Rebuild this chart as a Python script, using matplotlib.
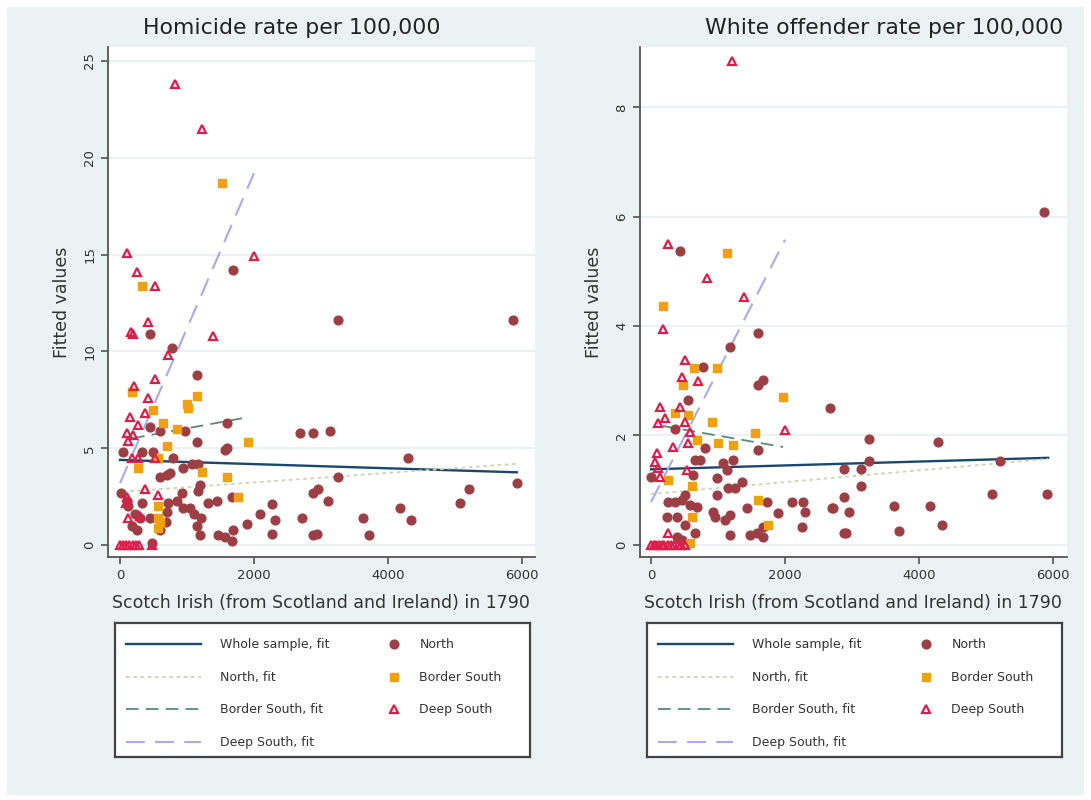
import matplotlib
matplotlib.use('Agg')
import matplotlib.pyplot as plt
import numpy as np
from matplotlib.patches import Rectangle

# --- Homicide rate panel ---
hom_north_x = [1687, 3254, 5866, 448, 776, 1150, 448, 597, 970, 1597, 1150, 2687, 2881, 3134,
               1597, 1567, 45, 328, 493, 791, 4299, 1075, 1165, 940, 702, 597, 746, 3254,
               10, 104, 925, 1165, 1194, 2881, 2955, 3104, 1313, 1448, 1672, 2269, 940, 1045,
               1104, 1209, 702, 2090, 2314, 2717, 3627, 4180, 4344, 5075, 5209, 5925,
               299, 448, 254, 597, 1150, 1896, 1687, 1194, 1463, 1567, 1672, 2269, 2881,
               2940, 3716, 478, 180, 120, 230, 330, 720, 850, 690]
hom_north_y = [14.2, 11.6, 11.6, 10.9, 10.2, 8.8, 6.1, 5.9, 5.9, 6.3, 5.3, 5.8, 5.8, 5.9,
               5.0, 4.9, 4.8, 4.8, 4.8, 4.5, 4.5, 4.2, 4.2, 4.0, 3.6, 3.5, 3.7, 3.5,
               2.7, 2.3, 2.7, 2.8, 3.1, 2.7, 2.9, 2.3, 2.2, 2.3, 2.5, 2.1, 1.9, 1.9,
               1.6, 1.4, 1.7, 1.6, 1.3, 1.4, 1.4, 1.9, 1.3, 2.2, 2.9, 3.2,
               1.4, 1.4, 0.8, 0.8, 1.0, 1.1, 0.8, 0.5, 0.5, 0.4, 0.2, 0.6, 0.5,
               0.6, 0.5, 0.1, 1.0, 2.0, 1.6, 2.2, 2.2, 2.3, 1.2]
hom_border_x = [1523, 328, 179, 1150, 1000, 1015, 493, 642, 851, 1911, 702, 269, 1224,
                567, 1597, 1761, 567, 567, 567, 597]
hom_border_y = [18.7, 13.4, 7.9, 7.7, 7.3, 7.1, 7.0, 6.3, 6.0, 5.3, 5.1, 4.0, 3.8,
                4.5, 3.5, 2.5, 2.0, 1.4, 0.9, 1.2]
hom_deep_x = [821, 1224, 104, 2000, 254, 523, 1388, 164, 194, 418, 717, 209, 523, 418,
              149, 373, 269, 104, 194, 119, 523, 179, 269, 373, 567, 104, 119, 299, 90,
              0, 40, 90, 140, 190, 240, 290, 478]
hom_deep_y = [23.8, 21.5, 15.1, 14.9, 14.1, 13.4, 10.8, 11.0, 10.9, 11.5, 9.8, 8.2, 8.6, 7.6,
              6.6, 6.8, 6.2, 5.8, 5.7, 5.4, 4.5, 4.5, 4.5, 2.9, 2.6, 2.5, 1.4, 1.5, 2.2,
              0, 0, 0, 0, 0, 0, 0, 0]

# --- White offender rate panel ---
wo_north_x = [5866, 433, 1597, 1179, 776, 1672, 1597, 552, 2672, 358, 806, 1597, 657, 731,
              1075, 1224, 0, 1135, 627, 985, 1358, 1150, 1254, 985, 508, 254, 358, 463,
              582, 687, 1731, 1433, 1896, 2105, 2269, 2299, 2702, 239, 388, 926, 955,
              1105, 1179, 508, 657, 388, 463, 1672, 2254, 1179, 1478, 1582, 1672,
              3254, 4285, 3254, 5210, 2881, 3135, 3135, 2881, 2717, 2956, 3627, 4165,
              5090, 5910, 2880, 2910, 3702, 4344]
wo_north_y = [6.09, 5.37, 3.87, 3.62, 3.25, 3.02, 2.93, 2.65, 2.5, 2.12, 1.77, 1.74, 1.55, 1.55,
              1.5, 1.55, 1.24, 1.37, 1.28, 1.22, 1.15, 1.04, 1.04, 0.91, 0.91, 0.79, 0.79, 0.82,
              0.73, 0.69, 0.79, 0.68, 0.58, 0.79, 0.79, 0.6, 0.68, 0.51, 0.51, 0.6, 0.51,
              0.46, 0.55, 0.37, 0.22, 0.15, 0.08, 0.33, 0.33, 0.18, 0.18, 0.22, 0.15,
              1.94, 1.88, 1.54, 1.54, 1.39, 1.39, 1.08, 0.88, 0.68, 0.6, 0.71, 0.71,
              0.93, 0.93, 0.22, 0.22, 0.26, 0.37]
wo_border_x = [179, 1135, 642, 985, 478, 1970, 358, 552, 911, 1552, 687, 1000, 1224,
               254, 612, 1597, 612, 1746, 582]
wo_border_y = [4.37, 5.33, 3.23, 3.23, 2.93, 2.71, 2.41, 2.38, 2.25, 2.05, 1.92, 1.86, 1.83,
               1.19, 1.08, 0.82, 0.51, 0.37, 0.03]
wo_deep_x = [1209, 254, 836, 1388, 179, 508, 463, 702, 134, 433, 209, 104, 508, 2000,
             582, 552, 328, 90, 60, 104, 134, 537, 254,
             0, 40, 80, 120, 160, 200, 250, 300, 350, 400, 450, 508]
wo_deep_y = [8.85, 5.5, 4.88, 4.53, 3.95, 3.38, 3.07, 3.0, 2.52, 2.52, 2.32, 2.23, 2.25, 2.1,
             2.07, 1.86, 1.79, 1.68, 1.52, 1.41, 1.24, 1.37, 0.22,
             0, 0, 0, 0, 0, 0, 0, 0, 0, 0, 0, 0]

# fitted lines: (intercept, slope, x from, x to)
hom_fits = {'whole': (4.4, -0.000108, 0, 5925), 'north': (2.75, 0.000245, 45, 5925),
            'border': (5.4, 0.00063, 179, 1911), 'deep': (3.2, 0.00800, 0, 2000)}
wo_fits = {'whole': (1.38, 0.0000355, 0, 5925), 'north': (0.93, 0.000108, 0, 5925),
           'border': (2.21, -0.000214, 179, 1970), 'deep': (0.78, 0.0024, 0, 2000)}

titles = ['Homicide rate per 100,000', 'White offender rate per 100,000']
xlab = 'Scotch Irish (from Scotland and Ireland) in 1790'
fit_labels = ['Whole sample, fit', 'North, fit', 'Border South, fit', 'Deep South, fit']
grp_labels = ['North', 'Border South', 'Deep South']

BG = '#eaf2f3'
c_north, c_border, c_deep = '#9c3f45', '#f0a010', '#dc1e4a'
fit_styles = {'whole': dict(color='#1a476f', lw=1.7, ls='-'),
              'north': dict(color='#c9d6b4', lw=1.3, ls=(0, (2, 2))),
              'border': dict(color='#5a8a78', lw=1.3, ls=(0, (7, 4))),
              'deep': dict(color='#a9a9ee', lw=1.5, ls=(0, (9, 5)))}

fig = plt.figure(figsize=(10.91, 8), dpi=100, facecolor='white')
fig.patches.append(Rectangle((7/1091, 5/800), 1077/1091, 788/800, transform=fig.transFigure,
                             facecolor=BG, edgecolor='none', zorder=-10))


def panel(left, data, fits, ylim, yticks, xlim, title, title_x):
    ax = fig.add_axes([left, 0.304, 0.391, 0.637])
    ax.set_facecolor('white')
    lines = []
    for key in ['whole', 'north', 'border', 'deep']:
        a, b, x0, x1 = fits[key]
        xs = np.array([x0, x1])
        ln, = ax.plot(xs, a + b * xs, **fit_styles[key], zorder=2)
        lines.append(ln)
    nx, ny, bx, by, dx, dy = data
    pts = []
    pts.append(ax.plot(nx, ny, 'o', ms=6.3, color=c_north, mec=c_north, zorder=3)[0])
    pts.append(ax.plot(bx, by, 's', ms=6.0, color=c_border, mec=c_border, zorder=3)[0])
    pts.append(ax.plot(dx, dy, '^', ms=6.0, mfc='none', mec=c_deep, mew=1.6, zorder=4)[0])
    ax.set_xlim(*xlim)
    ax.set_ylim(*ylim)
    ax.set_xticks([0, 2000, 4000, 6000])
    ax.set_yticks(yticks)
    ax.set_yticklabels([str(t) for t in yticks], rotation=90, va='center')
    ax.grid(axis='y', color=BG, lw=1.5)
    ax.set_axisbelow(True)
    for s in ['top', 'right']:
        ax.spines[s].set_visible(False)
    for s in ['left', 'bottom']:
        ax.spines[s].set_color('#555555')
        ax.spines[s].set_linewidth(1.3)
    ax.tick_params(colors='#555555', labelcolor='#333333', labelsize=9.5, length=5, width=1.2)
    ax.set_xlabel(xlab, fontsize=12.5, color='#333333', labelpad=9)
    ax.set_ylabel('Fitted values', fontsize=12.5, color='#333333', labelpad=9)
    fig.text(title_x, 1 - 28/800, title, fontsize=15.8, color='#222222', ha='left', va='center')

    # legend box below the plot
    lax = fig.add_axes([left + 0.006, 0.054, 0.381, 0.167])
    lax.set_xticks([])
    lax.set_yticks([])
    lax.set_facecolor('white')
    for s in lax.spines.values():
        s.set_color('#444444')
        s.set_linewidth(1.6)
    leg1 = lax.legend(lines, fit_labels, loc='upper left', bbox_to_anchor=(0.0, 0.97),
                      frameon=False, fontsize=9, handlelength=6.0, handletextpad=1.5,
                      labelspacing=1.56, labelcolor='#333333')
    lax.add_artist(leg1)
    lax.legend(pts, grp_labels, loc='upper left', bbox_to_anchor=(0.625, 0.97),
               frameon=False, fontsize=9, handlelength=1.3, handletextpad=1.4,
               labelspacing=1.56, labelcolor='#333333')


panel(0.099, (hom_north_x, hom_north_y, hom_border_x, hom_border_y, hom_deep_x, hom_deep_y),
      hom_fits, (-0.6, 25.7), [0, 5, 10, 15, 20, 25], (-180, 6190), titles[0], 143/1091)
panel(0.5866, (wo_north_x, wo_north_y, wo_border_x, wo_border_y, wo_deep_x, wo_deep_y),
      wo_fits, (-0.22, 9.1), [0, 2, 4, 6, 8], (-165, 6200), titles[1], 705/1091)

fig.savefig('out.png', dpi=100, facecolor=fig.get_facecolor())
